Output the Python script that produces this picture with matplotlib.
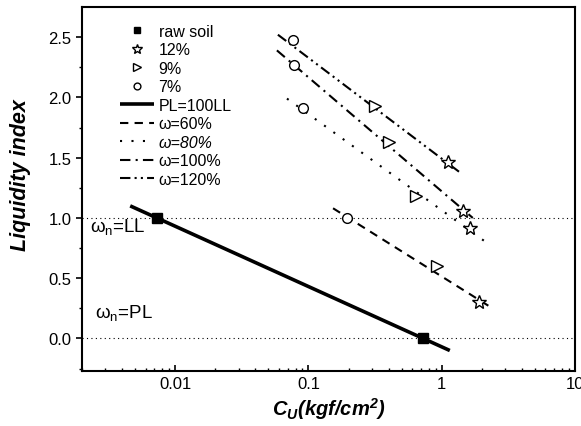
import matplotlib
matplotlib.use("Agg")
import matplotlib.pyplot as plt
from matplotlib.ticker import FixedLocator, NullFormatter, LogLocator

plt.rcParams['font.family'] = ['Liberation Sans', 'DejaVu Sans']
plt.rcParams['mathtext.default'] = 'regular'

# datos
raw_cu = [0.0073, 0.72]
raw_li = [1.0, 0.0]
cu_12 = [1.11, 1.44, 1.62, 1.89]
li_12 = [1.46, 1.06, 0.92, 0.30]
cu_9 = [0.315, 0.40, 0.64, 0.92]
li_9 = [1.93, 1.63, 1.18, 0.60]
cu_7 = [0.077, 0.078, 0.091, 0.194]
li_7 = [2.48, 2.27, 1.91, 1.00]

pl_cu = [0.0046, 1.15]
pl_li = [1.10, -0.10]
w60_cu = [0.153, 2.25]
w60_li = [1.08, 0.27]
w80_cu = [0.069, 2.14]
w80_li = [1.99, 0.80]
w100_cu = [0.058, 1.71]
w100_li = [2.39, 1.00]
w120_cu = [0.059, 1.36]
w120_li = [2.52, 1.38]

fig = plt.figure(figsize=(5.81, 4.27), dpi=100)
ax = fig.add_axes([0.1411, 0.1288, 0.8486, 0.8525])

ax.axhline(1.0, color='black', lw=0.8, linestyle=(0, (1, 3)), zorder=1)
ax.axhline(0.0, color='black', lw=0.8, linestyle=(0, (1, 3)), zorder=1)

h_pl, = ax.plot(pl_cu, pl_li, color='black', lw=2.6, solid_capstyle='butt', label='PL=100LL')
h60, = ax.plot(w60_cu, w60_li, color='black', lw=1.5, linestyle=(0, (4, 3)), label='ω=60%')
h80, = ax.plot(w80_cu, w80_li, color='black', lw=1.5, linestyle=(0, (1, 4.5)), label='ω=80%')
h100, = ax.plot(w100_cu, w100_li, color='black', lw=1.5, linestyle=(0, (5, 2.5, 1, 2.5)), label='ω=100%')
h120, = ax.plot(w120_cu, w120_li, color='black', lw=1.5, linestyle=(0, (5, 2, 1, 2, 1, 2)), label='ω=120%')

h_raw, = ax.plot(raw_cu, raw_li, 's', color='black', ms=6.5, linestyle='none', label='raw soil', zorder=5)
h12, = ax.plot(cu_12, li_12, '*', mfc='white', mec='black', mew=1.0, ms=10, linestyle='none', label='12%', zorder=5)
h9, = ax.plot(cu_9, li_9, '>', mfc='white', mec='black', mew=1.0, ms=8, linestyle='none', label='9%', zorder=5)
h7, = ax.plot(cu_7, li_7, 'o', mfc='white', mec='black', mew=1.0, ms=7, linestyle='none', label='7%', zorder=5)

ax.text(0.0023, 0.93, 'ω$_{n}$=LL', fontsize=13.5, va='center', ha='left')
ax.text(0.0025, 0.22, 'ω$_{n}$=PL', fontsize=13.5, va='center', ha='left')

# ejes
ax.set_xscale('log')
ax.set_xlim(0.002, 10)
ax.set_ylim(-0.27, 2.75)
ax.xaxis.set_major_locator(FixedLocator([0.01, 0.1, 1, 10]))
ax.set_xticklabels(['0.01', '0.1', '1', '10'])
ax.xaxis.set_minor_locator(LogLocator(base=10, subs=range(2, 10)))
ax.xaxis.set_minor_formatter(NullFormatter())
ax.set_yticks([0.0, 0.5, 1.0, 1.5, 2.0, 2.5])
ax.set_yticks([-0.25, 0.25, 0.75, 1.25, 1.75, 2.25], minor=True)
ax.tick_params(axis='both', which='major', labelsize=12, width=1.2, length=4)
ax.tick_params(axis='x', which='both', direction='in')
ax.tick_params(axis='x', which='minor', length=2.5, width=1)
ax.tick_params(axis='y', which='minor', length=2.5, width=1)
for s in ax.spines.values():
    s.set_linewidth(1.5)

ax.set_xlabel('C$_{U}$(kgf/cm$^{2}$)', fontsize=14.5, fontweight='bold', style='italic', labelpad=3)
ax.set_ylabel('Liquidity index', fontsize=15.5, fontweight='bold', style='italic')
ax.yaxis.set_label_coords(-0.103, 0.54)

leg = ax.legend(handles=[h_raw, h12, h9, h7, h_pl, h60, h80, h100, h120],
                loc='upper left', bbox_to_anchor=(0.055, 0.985), frameon=False,
                fontsize=11.5, handlelength=2.1, handletextpad=0.3, labelspacing=0.22,
                markerscale=0.7, borderpad=0.2)
leg.get_texts()[6].set_style('italic')

fig.savefig('out.png', dpi=100)
